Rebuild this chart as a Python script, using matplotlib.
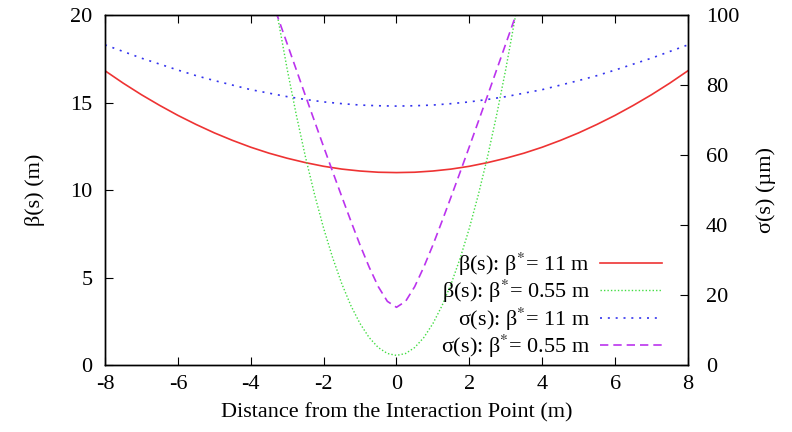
"""
Beta function and beam size around the interaction point
for two values of beta*.
"""
import matplotlib
matplotlib.use("Agg")
import matplotlib.pyplot as plt

plt.rcParams["font.family"] = ["Liberation Serif", "DejaVu Serif"]
plt.rcParams["mathtext.fontset"] = "stix"
plt.rcParams["axes.unicode_minus"] = False

# --- data ---
s_wide = [-8, -7.5, -7, -6.5, -6, -5.5, -5, -4.5, -4, -3.5, -3, -2.5, -2, -1.5, -1, -0.5,
          0, 0.5, 1, 1.5, 2, 2.5, 3, 3.5, 4, 4.5, 5, 5.5, 6, 6.5, 7, 7.5, 8]
beta_11 = [16.82, 16.11, 15.45, 14.84, 14.27, 13.75, 13.27, 12.84, 12.45, 12.11, 11.82,
           11.57, 11.36, 11.20, 11.09, 11.02, 11.00, 11.02, 11.09, 11.20, 11.36, 11.57,
           11.82, 12.11, 12.45, 12.84, 13.27, 13.75, 14.27, 14.84, 15.45, 16.11, 16.82]
sigma_11 = [91.5, 89.6, 87.7, 86.0, 84.3, 82.7, 81.3, 80.0, 78.7, 77.7, 76.7, 75.9, 75.2,
            74.7, 74.3, 74.1, 74.0, 74.1, 74.3, 74.7, 75.2, 75.9, 76.7, 77.7, 78.7, 80.0,
            81.3, 82.7, 84.3, 86.0, 87.7, 89.6, 91.5]

s_narrow = [-3.5, -3.25, -3, -2.75, -2.5, -2.25, -2, -1.75, -1.5, -1.25, -1, -0.75, -0.5,
            -0.25, 0, 0.25, 0.5, 0.75, 1, 1.25, 1.5, 1.75, 2, 2.25, 2.5, 2.75, 3, 3.25, 3.5]
beta_055 = [22.82, 19.76, 16.91, 14.30, 11.91, 9.76, 7.82, 6.12, 4.64, 3.39, 2.37, 1.57,
            1.00, 0.66, 0.55, 0.66, 1.00, 1.57, 2.37, 3.39, 4.64, 6.12, 7.82, 9.76, 11.91,
            14.30, 16.91, 19.76, 22.82]
sigma_055 = [106.6, 99.2, 91.8, 84.4, 77.0, 69.7, 62.4, 55.2, 48.1, 41.1, 34.3, 28.0, 22.4,
             18.2, 16.5, 18.2, 22.4, 28.0, 34.3, 41.1, 48.1, 55.2, 62.4, 69.7, 77.0, 84.4,
             91.8, 99.2, 106.6]

x_ticks = [-8, -6, -4, -2, 0, 2, 4, 6, 8]
beta_ticks = [0, 5, 10, 15, 20]
sigma_ticks = [0, 20, 40, 60, 80, 100]

FS = 16

fig = plt.figure(figsize=(7.92, 4.32), dpi=100)
ax = fig.add_axes([0.1326, 0.155, 0.736, 0.81])
ax2 = ax.twinx()

l1, = ax.plot(s_wide, beta_11, color="#ee3333", lw=1.2, linestyle="-")
l2, = ax.plot(s_narrow, beta_055, color="#44dd44", lw=1.0, linestyle=(0, (1, 1.5)))
l3, = ax2.plot(s_wide, sigma_11, color="#3333ee", lw=1.2, linestyle=(0, (1.2, 3.5)))
l4, = ax2.plot(s_narrow, sigma_055, color="#bb33ee", lw=1.2, linestyle=(0, (5, 3)))

ax.set_xlim(-8, 8)
ax.set_ylim(0, 20)
ax2.set_ylim(0, 100)
ax.set_xticks(x_ticks)
ax.set_yticks(beta_ticks)
ax2.set_yticks(sigma_ticks)

ax.tick_params(axis="x", direction="in", top=True, length=6, pad=7, labelsize=FS)
ax.tick_params(axis="y", direction="in", right=False, length=6, pad=9, labelsize=FS)
ax2.tick_params(axis="y", direction="in", length=6, pad=13, labelsize=FS)

ax.set_xlabel("Distance from the Interaction Point (m)", fontsize=FS, labelpad=7)
ax.set_ylabel("β(s) (m)", fontsize=FS, labelpad=18)
ax2.set_ylabel("σ(s) (µm)", fontsize=FS, labelpad=12)

for a in (ax, ax2):
    for sp in a.spines.values():
        sp.set_linewidth(1.0)

labels = [r"β(s): β$^{*}$= 11 m", r"β(s): β$^{*}$= 0.55 m",
          r"σ(s): β$^{*}$= 11 m", r"σ(s): β$^{*}$= 0.55 m"]
leg = ax2.legend([l1, l2, l3, l4], labels, loc="lower right", frameon=False,
                 markerfirst=False, fontsize=FS, handlelength=2.8, handletextpad=0.45,
                 labelspacing=0.0, borderaxespad=0.0, borderpad=0.0,
                 bbox_to_anchor=(0.956, 0.015))
for col in leg._legend_handle_box.get_children():
    col.align = "right"

fig.savefig("out.png", dpi=100)
